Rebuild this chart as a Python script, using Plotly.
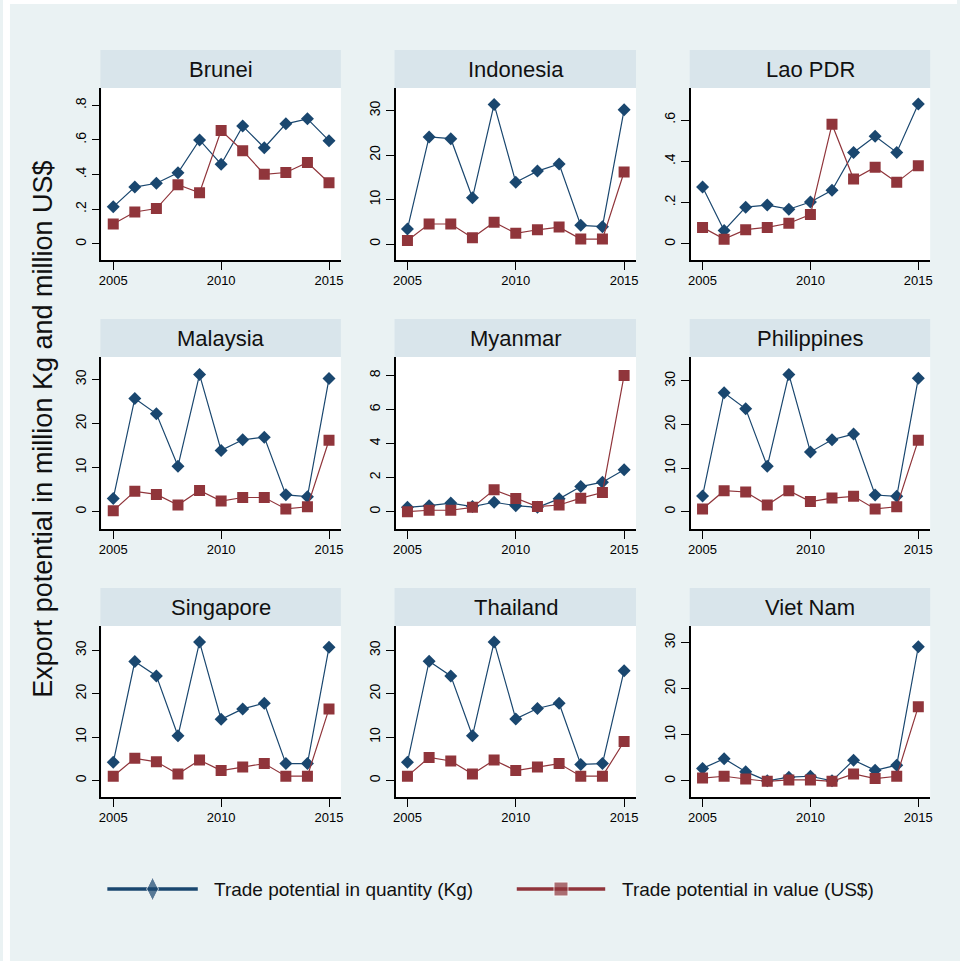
import plotly.graph_objects as go

# ---------------------------------------------------------------- data
years = list(range(2005, 2016))

countries = ["Brunei", "Indonesia", "Lao PDR",
             "Malaysia", "Myanmar", "Philippines",
             "Singapore", "Thailand", "Viet Nam"]

# Trade potential in quantity (million Kg)
qty_brunei = [0.214, 0.328, 0.35, 0.41, 0.60, 0.46, 0.68, 0.555, 0.693, 0.722, 0.596]
qty_indonesia = [3.4, 24.1, 23.7, 10.4, 31.4, 13.9, 16.4, 18.0, 4.2, 3.9, 30.2]
qty_lao = [0.276, 0.065, 0.178, 0.188, 0.168, 0.203, 0.26, 0.443, 0.521, 0.443, 0.678]
qty_malaysia = [3.0, 25.7, 22.2, 10.3, 31.1, 13.9, 16.3, 16.9, 3.8, 3.4, 30.2]
qty_myanmar = [0.25, 0.35, 0.5, 0.3, 0.55, 0.35, 0.25, 0.75, 1.47, 1.73, 2.46]
qty_philippines = [3.6, 27.3, 23.6, 10.4, 31.5, 13.7, 16.5, 17.8, 3.8, 3.5, 30.6]
qty_singapore = [4.2, 27.4, 24.1, 10.3, 31.9, 14.1, 16.5, 17.8, 3.9, 3.9, 30.7]
qty_thailand = [4.2, 27.5, 24.1, 10.3, 31.9, 14.2, 16.6, 17.8, 3.7, 3.9, 25.3]
qty_vietnam = [2.7, 4.8, 2.0, 0.0, 0.8, 1.0, 0.0, 4.5, 2.3, 3.4, 29.1]

# Trade potential in value (million US$)
val_brunei = [0.115, 0.184, 0.204, 0.342, 0.295, 0.654, 0.538, 0.402, 0.412, 0.47, 0.353]
val_indonesia = [0.8, 4.5, 4.5, 1.4, 4.9, 2.4, 3.2, 3.8, 1.1, 1.1, 16.2]
val_lao = [0.08, 0.023, 0.069, 0.08, 0.10, 0.142, 0.579, 0.314, 0.371, 0.298, 0.379]
val_malaysia = [0.2, 4.6, 3.9, 1.5, 4.8, 2.4, 3.2, 3.2, 0.6, 1.1, 16.2]
val_myanmar = [0.0, 0.08, 0.08, 0.25, 1.28, 0.77, 0.3, 0.39, 0.79, 1.12, 8.0]
val_philippines = [0.6, 4.8, 4.5, 1.5, 4.8, 2.3, 3.1, 3.5, 0.6, 1.1, 16.4]
val_singapore = [1.0, 5.1, 4.3, 1.5, 4.7, 2.3, 3.1, 3.9, 1.0, 1.0, 16.5]
val_thailand = [1.0, 5.3, 4.5, 1.5, 4.7, 2.3, 3.1, 3.9, 1.0, 1.0, 9.0]
val_vietnam = [0.6, 1.0, 0.4, -0.1, 0.2, 0.2, -0.1, 1.5, 0.5, 1.0, 16.1]

quantity = [qty_brunei, qty_indonesia, qty_lao, qty_malaysia, qty_myanmar,
            qty_philippines, qty_singapore, qty_thailand, qty_vietnam]
value = [val_brunei, val_indonesia, val_lao, val_malaysia, val_myanmar,
         val_philippines, val_singapore, val_thailand, val_vietnam]

x_ticks = [2005, 2010, 2015]
y_ticks_small = [0, 0.2, 0.4, 0.6, 0.8]
y_labels_small = ["0", ".2", ".4", ".6", ".8"]
y_ticks_lao = [0, 0.2, 0.4, 0.6]
y_labels_lao = ["0", ".2", ".4", ".6"]
y_ticks_myanmar = [0, 2, 4, 6, 8]
y_ticks_large = [0, 10, 20, 30]

label_qty = "Trade potential in quantity (Kg)"
label_val = "Trade potential in value (US$)"
y_title = "Export potential in million Kg and million US$"

# ---------------------------------------------------------------- style
W, H = 960, 961
BG = "#eaf2f3"
STRIP = "#d9e5eb"
NAVY = "#1a476f"
MAROON = "#90353b"
FONT = "Liberation Sans, Arial, sans-serif"

col_px = [(99, 340), (395, 637), (692, 933)]
row_px = [(88, 260), (357, 529), (626, 797)]   # plot top / bottom
strip_h = 38

y_axis_cfg = [
    dict(range=[-0.093, 0.90], tickvals=y_ticks_small, ticktext=y_labels_small),
    dict(range=[-3.6, 35.1], tickvals=y_ticks_large),
    dict(range=[-0.078, 0.755], tickvals=y_ticks_lao, ticktext=y_labels_lao),
    dict(range=[-3.95, 35.1], tickvals=y_ticks_large),
    dict(range=[-1.02, 9.08], tickvals=y_ticks_myanmar),
    dict(range=[-4.0, 35.5], tickvals=y_ticks_large),
    dict(range=[-3.8, 35.6], tickvals=y_ticks_large),
    dict(range=[-3.8, 35.6], tickvals=y_ticks_large),
    dict(range=[-3.5, 33.6], tickvals=y_ticks_large),
]


def px_x(v):
    return v / W


def px_y(v):
    return 1 - v / H


fig = go.Figure()
shapes = []
annotations = []
layout_axes = {}

# white margin strips at the left and top edges
shapes.append(dict(type="rect", xref="paper", yref="paper", x0=0, x1=px_x(7),
                   y0=0, y1=1, fillcolor="white", line_width=0, layer="below"))
shapes.append(dict(type="rect", xref="paper", yref="paper", x0=0, x1=1,
                   y0=px_y(4), y1=1, fillcolor="white", line_width=0, layer="below"))

for i, name in enumerate(countries):
    r, c = divmod(i, 3)
    x0, x1 = col_px[c]
    top, bottom = row_px[r]
    k = i + 1
    xa = "x" if k == 1 else f"x{k}"
    ya = "y" if k == 1 else f"y{k}"

    fig.add_trace(go.Scatter(
        x=years, y=quantity[i], mode="lines+markers", xaxis=xa, yaxis=ya,
        line=dict(color=NAVY, width=1.2),
        marker=dict(symbol="diamond", size=10, color=NAVY),
        showlegend=False, name=label_qty))
    fig.add_trace(go.Scatter(
        x=years, y=value[i], mode="lines+markers", xaxis=xa, yaxis=ya,
        line=dict(color=MAROON, width=1.2),
        marker=dict(symbol="square", size=11, color=MAROON),
        showlegend=False, name=label_val))

    # white plot region
    shapes.append(dict(type="rect", xref="paper", yref="paper",
                       x0=px_x(x0), x1=px_x(x1), y0=px_y(bottom), y1=px_y(top),
                       fillcolor="white", line_width=0, layer="below"))
    # title strip
    shapes.append(dict(type="rect", xref="paper", yref="paper",
                       x0=px_x(x0 - 1), x1=px_x(x1), y0=px_y(top), y1=px_y(top - strip_h),
                       fillcolor=STRIP, line_width=0, layer="below"))
    annotations.append(dict(text=name, xref="paper", yref="paper",
                            x=px_x((x0 + x1) / 2), y=px_y(top - strip_h / 2),
                            xanchor="center", yanchor="middle", showarrow=False,
                            font=dict(family=FONT, size=22, color="#111")))

    xkey = "xaxis" if k == 1 else f"xaxis{k}"
    ykey = "yaxis" if k == 1 else f"yaxis{k}"
    layout_axes[xkey] = dict(
        domain=[px_x(x0), px_x(x1)], anchor=ya, range=[2004.45, 2015.55],
        tickvals=x_ticks, ticks="outside", ticklen=8, tickwidth=1.2, tickcolor="black",
        showline=True, linecolor="black", linewidth=1.5, showgrid=False, zeroline=False,
        tickfont=dict(family=FONT, size=13, color="black"), fixedrange=True)
    layout_axes[ykey] = dict(
        domain=[px_y(bottom), px_y(top)], anchor=xa,
        ticks="outside", ticklen=8, tickwidth=1.2, tickcolor="black", tickangle=-90,
        showline=True, linecolor="black", linewidth=1.5, showgrid=False, zeroline=False,
        tickfont=dict(family=FONT, size=14, color="black"), fixedrange=True,
        **y_axis_cfg[i])

# legend drawn on a pixel-scaled overlay axis
ly0, ly1 = 860, 920
fig.add_trace(go.Scatter(
    x=[105, 150.5, 196], y=[889, 889, 889], xaxis="x10", yaxis="y10",
    mode="lines+markers", line=dict(color=NAVY, width=3.5),
    marker=dict(symbol="diamond-tall", size=[0, 17, 0], color=NAVY),
    showlegend=False, hoverinfo="skip"))
fig.add_trace(go.Scatter(
    x=[517, 561.5, 606], y=[889, 889, 889], xaxis="x10", yaxis="y10",
    mode="lines+markers", line=dict(color=MAROON, width=3.5),
    marker=dict(symbol="square", size=[0, 14, 0], color=MAROON),
    showlegend=False, hoverinfo="skip"))
layout_axes["xaxis10"] = dict(domain=[0, 1], range=[0, W], visible=False, fixedrange=True,
                              anchor="y10")
layout_axes["yaxis10"] = dict(domain=[px_y(ly1), px_y(ly0)], range=[ly1, ly0],
                              visible=False, fixedrange=True, anchor="x10")

annotations.append(dict(text=label_qty, xref="paper", yref="paper",
                        x=px_x(210), y=px_y(889), xanchor="left", yanchor="middle",
                        showarrow=False, font=dict(family=FONT, size=19, color="#111")))
annotations.append(dict(text=label_val, xref="paper", yref="paper",
                        x=px_x(621), y=px_y(889), xanchor="left", yanchor="middle",
                        showarrow=False, font=dict(family=FONT, size=19, color="#111")))
annotations.append(dict(text=y_title, xref="paper", yref="paper",
                        x=px_x(40), y=px_y(429), xanchor="center", yanchor="middle",
                        textangle=-90, showarrow=False,
                        font=dict(family=FONT, size=27, color="#111")))

fig.update_layout(
    width=W, height=H, margin=dict(l=0, r=0, t=0, b=0),
    paper_bgcolor=BG, plot_bgcolor="rgba(0,0,0,0)",
    shapes=shapes, annotations=annotations, showlegend=False,
    **layout_axes)

fig.write_html("out.html", config={"displayModeBar": False})
